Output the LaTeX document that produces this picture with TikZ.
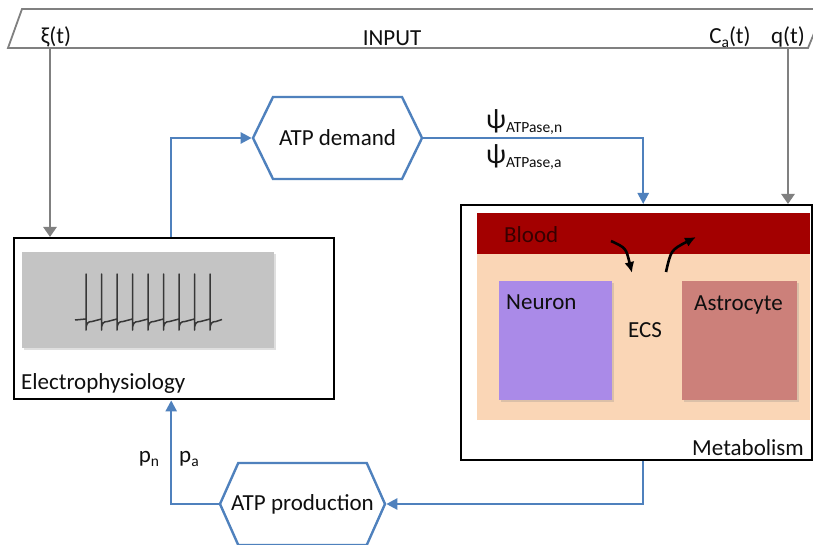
\documentclass[tikz,border=0pt]{standalone}
\usepackage{fontspec}
\setmainfont{Carlito}
\usetikzlibrary{arrows.meta,shapes.symbols,shadows}

\definecolor{flow}{RGB}{79,129,189}
\definecolor{feed}{RGB}{128,128,128}
\definecolor{blood}{RGB}{163,0,0}
\definecolor{ecs}{RGB}{250,214,182}
\definecolor{neur}{RGB}{170,138,232}
\definecolor{astro}{RGB}{204,128,122}
\definecolor{trace}{RGB}{196,196,196}
\definecolor{ink}{RGB}{15,15,15}
\definecolor{spike}{RGB}{55,55,55}

% lowered, smaller index text (Carlito has no math font)
\newcommand{\lowsub}[1]{\raisebox{-4pt}{\fontsize{15.5}{15.5}\selectfont #1}}
% larger psi for the ATPase rates
\newcommand{\bigpsi}{{\fontsize{28}{28}\selectfont ψ}}

\tikzset{
  lbl/.style={inner sep=0pt, text=ink},
  panel/.style={draw=black, line width=2.4pt, fill=white, inner sep=0pt},
  hexbox/.style={shape=signal, signal to=west and east, draw=flow,
                 line width=2.4pt, fill=white, inner sep=0pt, text=ink},
  flowline/.style={draw=flow, line width=2.4pt, -{Triangle[length=11pt,width=11pt]}},
  feedline/.style={draw=feed, line width=2.8pt, -{Triangle[length=10pt,width=13pt]}},
  swap/.style={line width=2.6pt, -{Latex[length=11pt,width=10pt]}},
  soft/.style={drop shadow={shadow xshift=1.5pt, shadow yshift=-2pt, opacity=0.25}},
}

\begin{document}
\begin{tikzpicture}[x=1pt, y=-1pt, font=\fontsize{23}{27}\selectfont]
\useasboundingbox (0,0) rectangle (813,545);
\fill[white] (0,0) rectangle (813,545);

% input banner
\draw[feed, line width=1.8pt, fill=white] (22,9) -- (824,9) -- (808,48) -- (8,48) -- cycle;
\coordinate (inL) at (50,48);
\coordinate (inR) at (788,48);
\node[lbl] (xi) at (56,37) {ξ(t)};
\node[lbl] (input) at (392,38) {INPUT};
\node[lbl] (ca) at (730,37) {C\lowsub{a}(t)};
\node[lbl] (q) at (788,37) {q(t)};

% electrophysiology panel
\node[panel, minimum width=320, minimum height=161, anchor=north west] (ephys) at (13,237) {};
\node[fill=trace, soft, minimum width=252, minimum height=96, inner sep=0pt, anchor=north west] (trace) at (22,252) {};
\draw[spike, line width=1.5pt, line join=round]
  (75,320) foreach \s in {86,101.5,117,132.5,148,163.5,179,194.5,210} {
    -- (\s,319) -- (\s,274) -- (\s,330)
    .. controls (\s,323) and (\s+2,321.5) .. (\s+6,321.5)
  } -- (222,319.5);
\node[lbl, anchor=base west] (ephyslbl) at (21,389) {Electrophysiology};

% metabolism panel
\node[panel, minimum width=351, minimum height=255, anchor=north west] (metab) at (460,204) {};
\fill[ecs] (477,213) rectangle (810,420);
\fill[blood] (477,213) rectangle (810,254);
\node[fill=neur, soft, minimum width=113, minimum height=119, inner sep=0pt, anchor=north west] (neuron) at (499,281) {};
\node[fill=astro, soft, minimum width=115, minimum height=119, inner sep=0pt, anchor=north west] (astro) at (682,281) {};
\node[lbl, anchor=base west, text={rgb,255:red,55;green,0;blue,0}] (bloodlbl) at (504,243) {Blood};
\node[lbl, anchor=base west] (neuronlbl) at (506,309) {Neuron};
\node[lbl, anchor=base west] (astrolbl) at (694,310) {Astrocyte};
\node[lbl] (ecslbl) at (645,330) {ECS};
\node[lbl, anchor=base east] (metablbl) at (804,455) {Metabolism};

% exchange between blood and extracellular space
\coordinate (inA) at (611,241);
\coordinate (inB) at (632,273);
\coordinate (outA) at (666,272);
\coordinate (outB) at (696,237);
\draw[swap] (inA) .. controls (626,248) .. (inB);
\draw[swap] (outA) .. controls (671,250) .. (outB);

% ATP hexagons (labels boxed at zero width so the outline keeps its set size)
\node[hexbox, signal pointer angle=128, minimum width=169, minimum height=82] (demand) at (337.5,138) {\makebox[0pt]{ATP demand}};
\node[hexbox, signal pointer angle=132, minimum width=165, minimum height=82] (prod) at (302.5,504) {\makebox[0pt]{ATP production}};

\node[lbl, anchor=base west] (psin) at (486,129) {\bigpsi\lowsub{ATPase,n}};
\node[lbl, anchor=base west] (psia) at (486,164) {\bigpsi\lowsub{ATPase,a}};
\node[lbl] (pn) at (149,459) {p\lowsub{n}};
\node[lbl] (pa) at (189,459) {p\lowsub{a}};

% input connectors
\draw[feedline] (inL) -- (inL |- ephys.north);
\draw[feedline] (inR) -- (inR |- metab.north);

% ATP loop
\draw[flowline] ([xshift=-3pt]ephys.north) |- (demand.west);
\draw[flowline] (demand.east) -| ([xshift=6.5pt]metab.north);
\draw[flowline] ([xshift=6.5pt]metab.south) |- (prod.east);
\draw[flowline] (prod.west) -| ([xshift=-3pt]ephys.south);
\end{tikzpicture}
\end{document}
